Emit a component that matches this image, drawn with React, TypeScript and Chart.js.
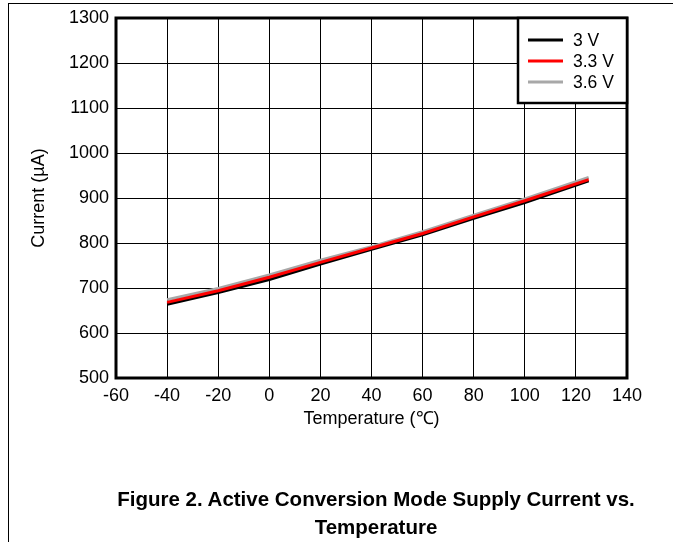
import React, { useEffect, useRef } from "react";
import { Chart, registerables } from "chart.js";

Chart.register(...registerables);

const temperatures = [-40, -20, 0, 20, 40, 60, 80, 100, 125];
const current3V = [664, 690, 719, 753, 786, 818, 855, 890, 938];
const current33V = [668, 694, 724, 757, 789, 821, 858, 894, 941];
const current36V = [674, 699, 729, 762, 792, 825, 862, 898, 946];
const seriesLabels = ["3 V", "3.3 V", "3.6 V"];
const seriesColors = ["#000000", "#ff0000", "#a8a8a8"];
const xTickValues = [-60, -40, -20, 0, 20, 40, 60, 80, 100, 120, 140];
const yTickValues = [500, 600, 700, 800, 900, 1000, 1100, 1200, 1300];

const FONT = "'Liberation Sans', Arial, sans-serif";
const W = 673;
const H = 542;
const PAD_LEFT = 28;
const PAD_TOP = 18;
const PAD_RIGHT = 46;
const X_AXIS_H = 52;
const PLOT_LEFT = 116;
const PLOT_BOTTOM = 378;

const framePlugin = {
  id: "frameAndLegend",
  afterDatasetsDraw(chart: any) {
    const { ctx, chartArea } = chart;
    ctx.save();
    ctx.strokeStyle = "#000";
    ctx.lineWidth = 3;
    ctx.strokeRect(chartArea.left, chartArea.top, chartArea.right - chartArea.left, chartArea.bottom - chartArea.top);
    const bw = 109;
    const bh = 85;
    const bx = chartArea.right - bw;
    const by = chartArea.top;
    ctx.fillStyle = "#fff";
    ctx.fillRect(bx, by, bw, bh);
    ctx.lineWidth = 2.5;
    ctx.strokeRect(bx, by, bw, bh);
    ctx.font = "17.5px " + FONT;
    ctx.textBaseline = "middle";
    ctx.textAlign = "left";
    seriesLabels.forEach((label, i) => {
      const y = by + 22 + i * 21;
      ctx.strokeStyle = seriesColors[i];
      ctx.lineWidth = 3;
      ctx.beginPath();
      ctx.moveTo(bx + 10, y);
      ctx.lineTo(bx + 45, y);
      ctx.stroke();
      ctx.fillStyle = "#000";
      ctx.fillText(label, bx + 55, y + 1);
    });
    ctx.restore();
  },
};

export default function App() {
  const canvasRef = useRef<HTMLCanvasElement | null>(null);

  useEffect(() => {
    if (!canvasRef.current) return;
    const series = [current3V, current33V, current36V];
    const orders = [1, 0, 2];
    const chart = new Chart(canvasRef.current, {
      type: "line",
      data: {
        datasets: series.map((vals, i) => ({
          label: seriesLabels[i],
          data: temperatures.map((t, j) => ({ x: t, y: vals[j] })),
          borderColor: seriesColors[i],
          backgroundColor: seriesColors[i],
          borderWidth: 3,
          pointRadius: 0,
          tension: 0,
          order: orders[i],
        })),
      },
      options: {
        animation: false,
        responsive: false,
        devicePixelRatio: 1,
        layout: { padding: { left: PAD_LEFT, top: PAD_TOP, right: PAD_RIGHT, bottom: H - PLOT_BOTTOM - X_AXIS_H } },
        plugins: { legend: { display: false }, tooltip: { enabled: false } },
        scales: {
          x: {
            type: "linear",
            min: -60,
            max: 140,
            afterFit: (s: any) => { s.height = X_AXIS_H; },
            afterBuildTicks: (s: any) => { s.ticks = xTickValues.map((v) => ({ value: v })); },
            ticks: { color: "#000", font: { family: FONT, size: 18 }, padding: 7, maxRotation: 0, callback: (v: any) => String(v) },
            grid: { color: "#000", lineWidth: 1, drawTicks: false },
            border: { display: false },
            title: { display: true, text: "Temperature (\u2103)", color: "#000", font: { family: FONT, size: 18 }, padding: { top: 0, bottom: 0 } },
          },
          y: {
            type: "linear",
            min: 500,
            max: 1300,
            afterFit: (s: any) => { s.width = PLOT_LEFT - PAD_LEFT; },
            afterBuildTicks: (s: any) => { s.ticks = yTickValues.map((v) => ({ value: v })); },
            ticks: { color: "#000", font: { family: FONT, size: 18 }, padding: 7, callback: (v: any) => String(v) },
            grid: { color: "#000", lineWidth: 1, drawTicks: false },
            border: { display: false },
            title: { display: true, text: "Current (\u00b5A)", color: "#000", font: { family: FONT, size: 18 }, padding: { top: 0, bottom: 0 } },
          },
        },
      },
      plugins: [framePlugin],
    } as any);
    return () => chart.destroy();
  }, []);

  return (
    <div style={{ position: "absolute", left: 0, top: 0, width: W, height: H, background: "#fff", overflow: "hidden" }}>
      <div style={{ position: "absolute", left: 8, top: 3, width: W - 8, height: H - 3, borderLeft: "1.5px solid #000", borderTop: "1.5px solid #000", boxSizing: "border-box" }} />
      <canvas ref={canvasRef} width={W} height={H} style={{ position: "absolute", left: 0, top: 0, width: W, height: H }} />
      <div style={{ position: "absolute", left: 76, width: 600, top: 485, textAlign: "center", fontFamily: FONT, fontWeight: "bold", fontSize: 20.5, lineHeight: "28px", color: "#000", whiteSpace: "nowrap" }}>
        Figure 2. Active Conversion Mode Supply Current vs.
        <br />
        Temperature
      </div>
    </div>
  );
}
